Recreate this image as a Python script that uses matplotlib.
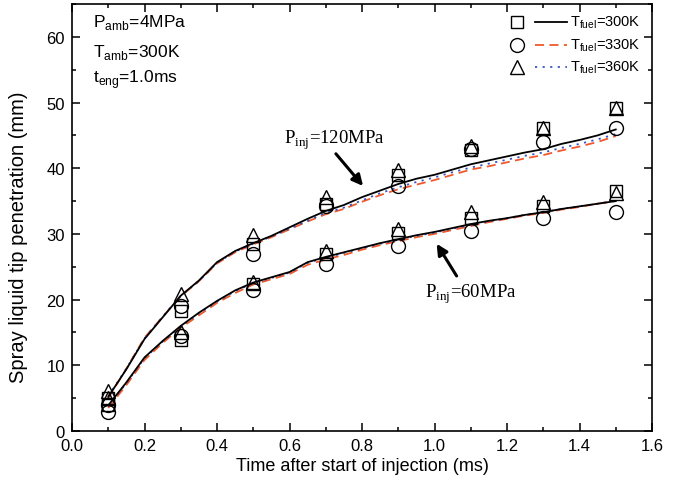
import matplotlib
matplotlib.use("Agg")
import matplotlib.pyplot as plt
from matplotlib.ticker import MultipleLocator
import numpy as np

plt.rcParams['font.family'] = ['Liberation Sans', 'DejaVu Sans']
plt.rcParams['mathtext.fontset'] = 'custom'
plt.rcParams['mathtext.rm'] = 'Liberation Sans'
plt.rcParams['mathtext.sf'] = 'Liberation Serif'

# ---- measured points ----
t_exp = [0.1, 0.3, 0.5, 0.7, 0.9, 1.1, 1.3, 1.5]
# 120 MPa
p120_300 = [5.0, 18.3, 28.5, 34.6, 38.9, 42.7, 46.2, 49.2]
p120_330 = [4.0, 19.1, 27.0, 34.2, 37.3, 42.9, 44.0, 46.2]
p120_360 = [6.1, 20.8, 29.8, 35.6, 39.8, 43.4, 46.2, 49.1]
# 60 MPa
p60_300 = [4.0, 13.8, 22.4, 26.9, 30.2, 32.5, 34.3, 36.5]
p60_330 = [2.9, 14.5, 21.4, 25.4, 28.1, 30.5, 32.5, 33.3]
p60_360 = [5.0, 15.1, 22.7, 27.4, 30.7, 33.3, 34.8, 36.2]

# ---- simulated curves ----
t_sim = [0.10, 0.15, 0.20, 0.25, 0.30, 0.35, 0.40, 0.45, 0.50, 0.55, 0.60,
         0.65, 0.70, 0.75, 0.80, 0.85, 0.90, 0.95, 1.00, 1.05, 1.10, 1.15,
         1.20, 1.25, 1.30, 1.35, 1.40, 1.45, 1.50]
s120_300 = [5.2, 9.4, 14.0, 17.3, 20.6, 22.9, 25.7, 27.4, 28.6, 29.7, 31.0,
            32.3, 33.5, 34.4, 35.6, 36.6, 37.6, 38.4, 39.0, 39.8, 40.6, 41.2,
            41.8, 42.4, 42.9, 43.7, 44.3, 45.0, 45.9]
s120_330 = [5.0, 9.5, 14.2, 17.4, 20.5, 22.8, 25.5, 27.2, 28.4, 29.5, 30.7,
            31.9, 33.0, 33.8, 34.9, 35.9, 36.8, 37.5, 38.2, 39.0, 39.8, 40.3,
            40.9, 41.5, 42.0, 42.7, 43.3, 44.0, 44.9]
s120_360 = [5.3, 9.5, 14.1, 17.4, 20.6, 22.8, 25.6, 27.3, 28.5, 29.6, 30.8,
            32.0, 33.2, 34.0, 35.1, 36.2, 37.1, 37.9, 38.6, 39.4, 40.1, 40.7,
            41.3, 41.9, 42.4, 43.1, 43.7, 44.4, 45.2]
s60_300 = [3.9, 7.4, 11.2, 13.7, 16.0, 18.0, 19.8, 21.4, 22.6, 23.4, 24.2,
           25.7, 26.5, 27.2, 27.9, 28.6, 29.2, 29.8, 30.3, 30.9, 31.5, 32.0,
           32.4, 32.9, 33.3, 33.8, 34.2, 34.6, 35.0]
s60_330 = [3.5, 7.0, 10.8, 13.4, 15.7, 17.6, 19.5, 21.0, 22.3, 23.1, 23.9,
           25.3, 26.1, 26.8, 27.6, 28.3, 28.9, 29.5, 30.0, 30.6, 31.2, 31.8,
           32.3, 32.8, 33.2, 33.7, 34.1, 34.6, 35.0]
s60_360 = [3.8, 7.3, 11.1, 13.6, 15.9, 17.9, 19.7, 21.3, 22.5, 23.3, 24.1,
           25.6, 26.4, 27.1, 27.8, 28.5, 29.1, 29.7, 30.2, 30.8, 31.4, 31.9,
           32.4, 32.9, 33.3, 33.8, 34.2, 34.6, 35.1]

legend_labels = ['300K', '330K', '360K']

fig = plt.figure(figsize=(6.75, 4.89), dpi=100)
ax = fig.add_axes([72/675, 57/489, 580/675, 427/489])

red = '#f0592b'
blue = '#3b56c2'
lw = 1.3

ax.plot(t_sim, s120_330, color=red, ls=(0, (5, 3)), lw=lw)
ax.plot(t_sim, s60_330, color=red, ls=(0, (5, 3)), lw=lw)
ax.plot(t_sim, s120_360, color=blue, ls=(0, (1.2, 3)), lw=lw)
ax.plot(t_sim, s60_360, color=blue, ls=(0, (1.2, 3)), lw=lw)
ax.plot(t_sim, s120_300, color='k', lw=lw)
ax.plot(t_sim, s60_300, color='k', lw=lw)

mk = dict(ls='none', mfc='none', mec='k', mew=1.0)
for ys in (p120_300, p60_300):
    ax.plot(t_exp, ys, marker='s', ms=9, **mk)
for ys in (p120_330, p60_330):
    ax.plot(t_exp, ys, marker='o', ms=10, **mk)
for ys in (p120_360, p60_360):
    ax.plot(t_exp, ys, marker='^', ms=10, **mk)

ax.set_xlim(0, 1.6)
ax.set_ylim(0, 65)
ax.xaxis.set_minor_locator(MultipleLocator(0.1))
ax.yaxis.set_minor_locator(MultipleLocator(5))
ax.set_xticks(np.arange(0, 1.61, 0.2))
ax.set_xticklabels(['%.1f' % v for v in np.arange(0, 1.61, 0.2)])
ax.set_yticks(np.arange(0, 61, 10))
ax.tick_params(which='both', direction='in', top=True, right=True, labelsize=12, width=1.1)
ax.tick_params(which='major', length=6, pad=5)
ax.tick_params(which='minor', length=3)
for s in ax.spines.values():
    s.set_linewidth(1.2)

ax.set_xlabel('Time after start of injection (ms)', fontsize=13, labelpad=3)
ax.set_ylabel('Spray liquid tip penetration (mm)', fontsize=14.5)
ax.yaxis.set_label_coords(-0.075, 0.455)

# condition text
ax.text(0.058, 62.3, r'P$_{\rm amb}$=4MPa', fontsize=12.5, va='center')
ax.text(0.058, 57.8, r'T$_{\rm amb}$=300K', fontsize=12.5, va='center')
ax.text(0.058, 53.6, r't$_{\rm eng}$=1.0ms', fontsize=12.5, va='center')

# legend (manual)
tr = ax.transAxes
rows_y = [(489 - 23 - 57) / 427, (489 - 46 - 57) / 427, (489 - 68 - 57) / 427]
mx = (517 - 72) / 580
lx0, lx1 = (535 - 72) / 580, (567 - 72) / 580
tx = (570 - 72) / 580
styles = [dict(color='k', ls='-'), dict(color=red, ls=(0, (5, 3))), dict(color=blue, ls=(0, (1.2, 3)))]
marks = [('s', 9), ('o', 10), ('^', 10)]
for i in range(3):
    ax.plot([mx], [rows_y[i]], marker=marks[i][0], ms=marks[i][1], transform=tr, clip_on=False, **mk)
    ax.plot([lx0, lx1], [rows_y[i]] * 2, lw=lw, transform=tr, clip_on=False, **styles[i])
    ax.text(tx, rows_y[i], r'T$_{\rm fuel}$=' + legend_labels[i], transform=tr, fontsize=10.5, va='center')

# annotations
ax.text(0.725, 44.4, r'P$_{\mathsf{inj}}$=120MPa', family='Liberation Serif', fontsize=13.5, ha='center', va='center')
ax.annotate('', xy=(0.803, 37.3), xytext=(0.728, 42.2),
            arrowprops=dict(arrowstyle='-|>', lw=2.2, color='k', mutation_scale=16, shrinkA=0, shrinkB=0))
ax.text(1.101, 20.9, r'P$_{\mathsf{inj}}$=60MPa', family='Liberation Serif', fontsize=13.5, ha='center', va='center')
ax.annotate('', xy=(1.006, 28.5), xytext=(1.061, 23.6),
            arrowprops=dict(arrowstyle='-|>', lw=2.2, color='k', mutation_scale=16, shrinkA=0, shrinkB=0))

fig.savefig('out.png', dpi=100)
